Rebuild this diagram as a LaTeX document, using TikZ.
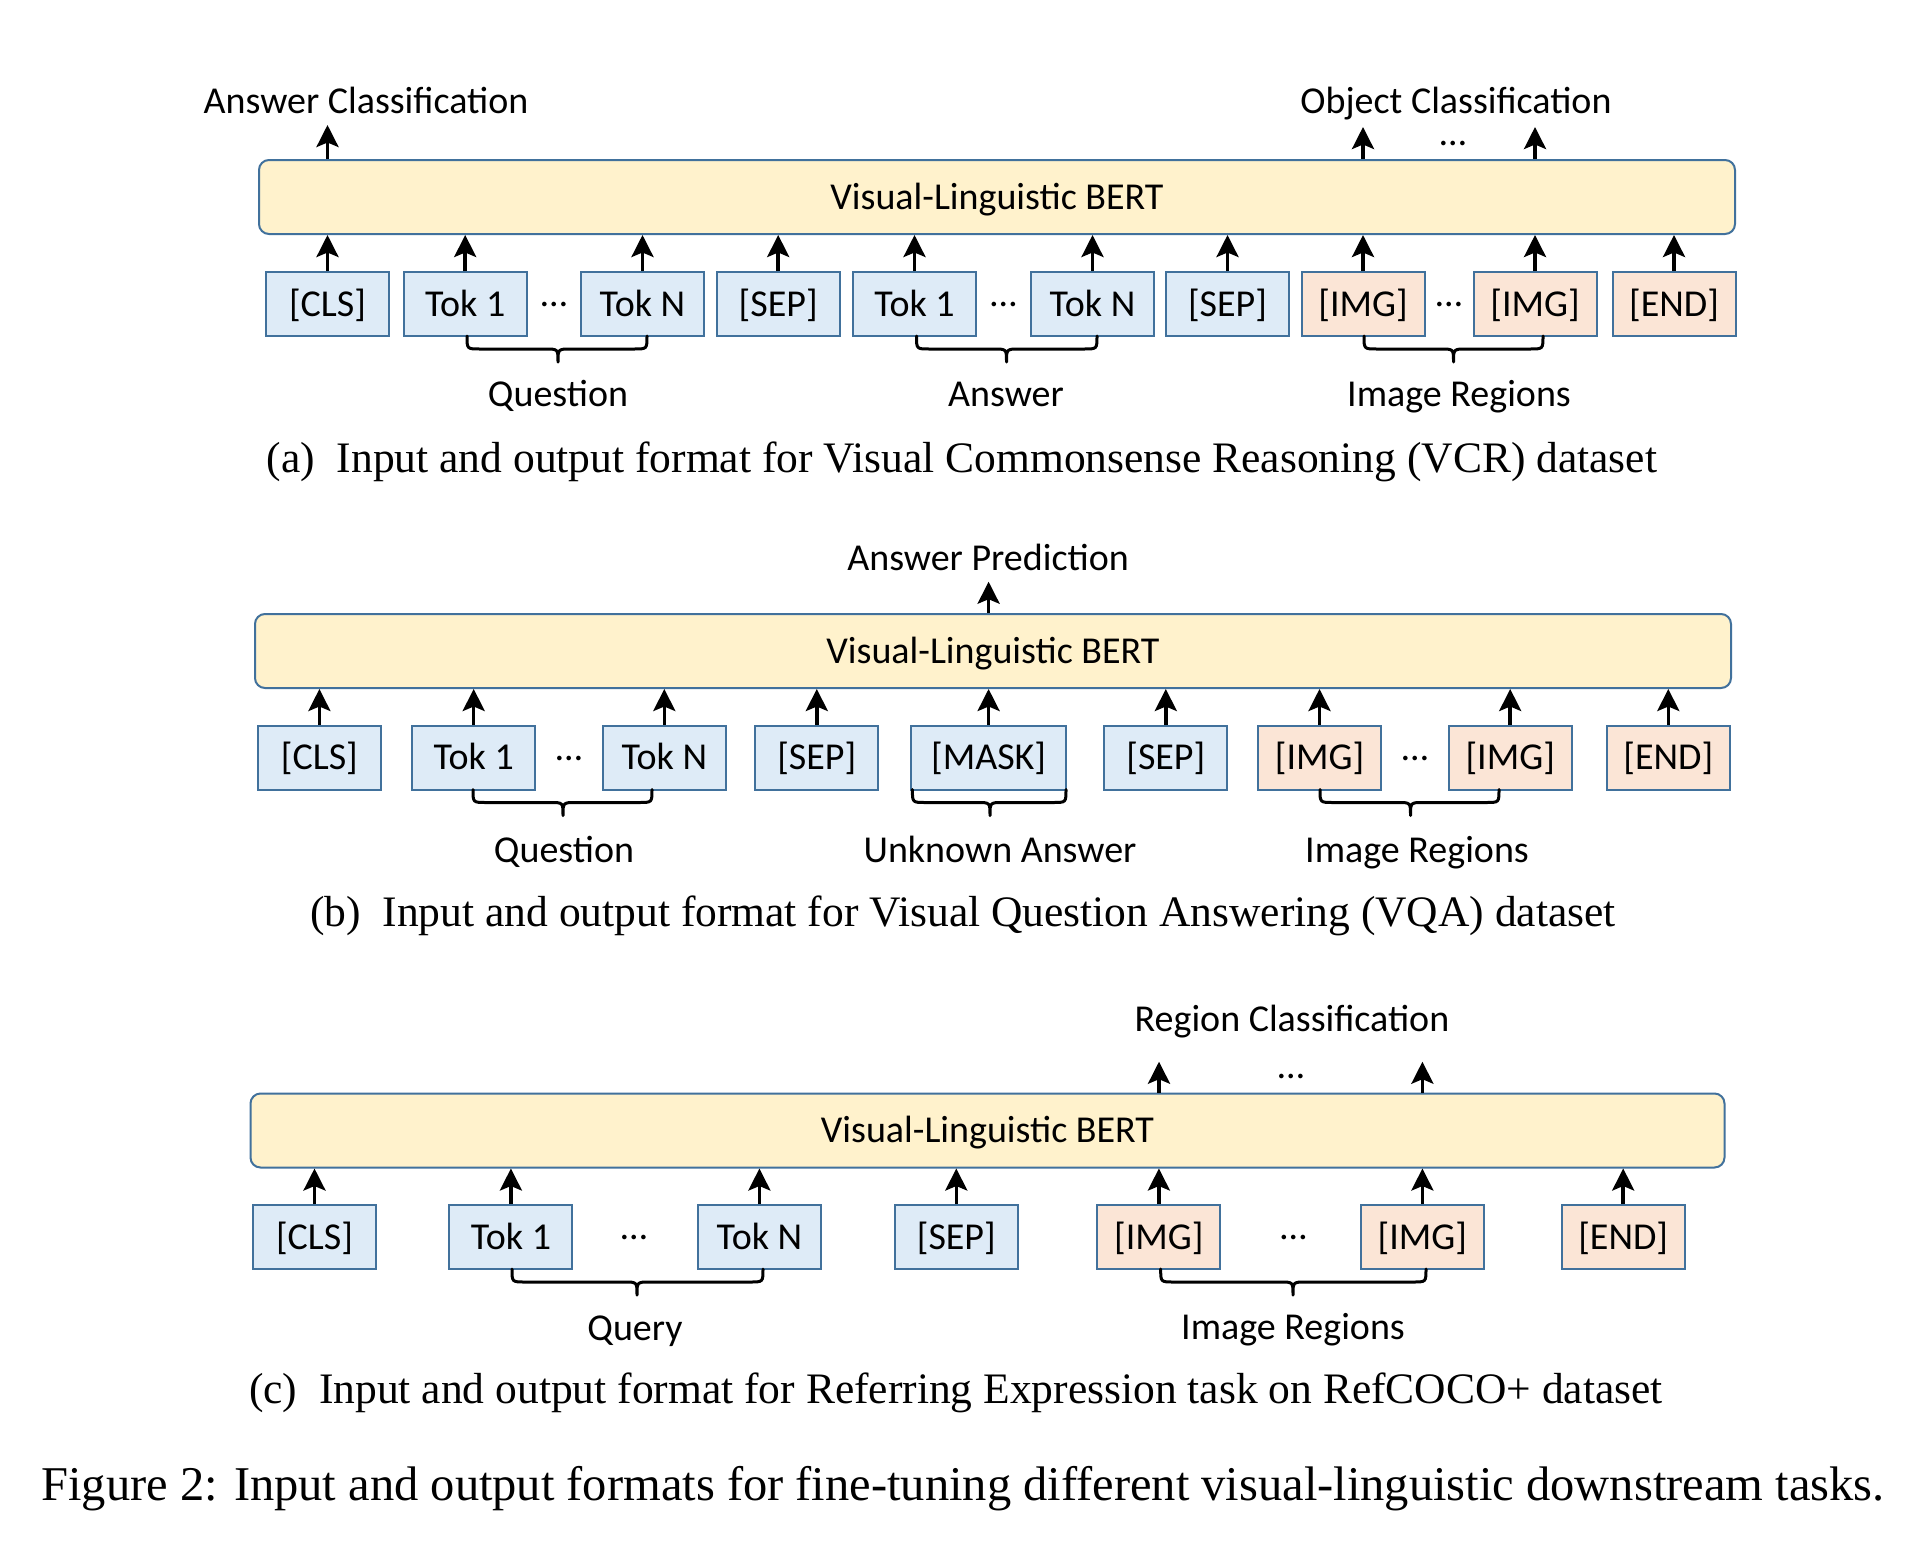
\documentclass[tikz,border=0pt]{standalone}
\usepackage{fontspec}
\setmainfont{Liberation Serif}
\newfontfamily\carl{Carlito}
\usetikzlibrary{arrows.meta}
\definecolor{bd}{HTML}{41719C}
\definecolor{bertfill}{HTML}{FFF2CC}
\definecolor{bluefill}{HTML}{DEEBF7}
\definecolor{peach}{HTML}{FBE5D6}
\newcommand\cfont{\carl\fontsize{38pt}{44pt}\selectfont}
\newcommand\capfont{\fontsize{43.5pt}{50pt}\selectfont}
\newcommand\figfont{\fontsize{48.5pt}{56pt}\selectfont}
\newcommand\Brace[4]{\draw[brc] (#1,#4) .. controls (#1,#4+13) .. (#1+13,#4+13) -- (#3-13,#4+13) .. controls (#3,#4+13) .. (#3,#4+26) .. controls (#3,#4+13) .. (#3+13,#4+13) -- (#2-13,#4+13) .. controls (#2,#4+13) .. (#2,#4);}
\begin{document}
\begin{tikzpicture}[x=1pt,y=-1pt,
  bert/.style={draw=bd, fill=bertfill, line width=2pt, rounded corners=10pt, minimum width=1476pt, minimum height=74pt, inner sep=0pt, font=\cfont, text height=24pt, text depth=0pt},
  tokb/.style={draw=bd, fill=bluefill, line width=2pt, minimum width=123pt, minimum height=64pt, inner sep=0pt, font=\cfont, text height=24pt, text depth=0pt},
  toki/.style={tokb, fill=peach},
  lbl/.style={font=\cfont, inner sep=0pt, text height=24pt, text depth=0pt},
  dotsn/.style={font=\cfont, inner sep=0pt, anchor=base, text height=6pt, text depth=0pt},
  arr/.style={line width=3.5pt, -{Stealth[length=22pt,width=22pt,inset=4.5pt]}},
  brc/.style={line width=3pt, line cap=round, line join=round},
  subcap/.style={font=\capfont, inner sep=0pt, anchor=base},
  figcap/.style={font=\figfont, inner sep=0pt, anchor=base}]
\useasboundingbox (0,0) rectangle (1912,1550);
\fill[white] (0,0) rectangle (1912,1550);

% ---------------- Panel (a) ----------------
\node[bert] (bertA) at (997,197) {Visual-Linguistic BERT};
\node[tokb] (clsA) at (327.5,304) {[CLS]};
\node[tokb] (qA1) at (465.2,304) {Tok 1};
\node[tokb] (qAn) at (642.5,304) {Tok N};
\node[tokb] (sepA1) at (778.2,304) {[SEP]};
\node[tokb] (aA1) at (914.5,304) {Tok 1};
\node[tokb] (aAn) at (1092.5,304) {Tok N};
\node[tokb] (sepA2) at (1227.5,304) {[SEP]};
\node[toki] (imgA1) at (1363,304) {[IMG]};
\node[toki] (imgA2) at (1535,304) {[IMG]};
\node[toki] (endA) at (1674,304) {[END]};
\node[dotsn] (dA1) at (554,306) {…};
\node[dotsn] (dA2) at (1003.5,306) {…};
\node[dotsn] (dA3) at (1449,306) {…};
\foreach \n in {clsA,qA1,qAn,sepA1,aA1,aAn,sepA2,imgA1,imgA2,endA}
  \draw[arr] (\n.north) -- (\n.north |- bertA.south);
\node[lbl] (ansCls) at (366,101) {Answer Classification};
\node[lbl] (objCls) at (1456,101) {Object Classification};
\coordinate (oA1) at (327.5,125);
\coordinate (oA2) at (1363,127);
\coordinate (oA3) at (1535,127);
\draw[arr] (bertA.north -| oA1) -- (oA1);
\draw[arr] (bertA.north -| oA2) -- (oA2);
\draw[arr] (bertA.north -| oA3) -- (oA3);
\node[dotsn] (dA4) at (1453,145) {…};
\Brace{467}{647}{558}{336}
\Brace{916.5}{1097}{1006.5}{336}
\Brace{1364}{1543}{1453.5}{336}
\node[lbl] (qLblA) at (558,394) {Question};
\node[lbl] (aLblA) at (1006,394) {Answer};
\node[lbl] (iLblA) at (1459,394) {Image Regions};
\node[subcap] (capA) at (962,472) {(a)\enspace Input and output format for Visual Commonsense Reasoning (VCR) dataset};

% ---------------- Panel (b) ----------------
\node[bert] (bertB) at (993,651) {Visual-Linguistic BERT};
\node[tokb] (clsB) at (319.4,757.5) {[CLS]};
\node[tokb] (qB1) at (473.7,757.5) {Tok 1};
\node[tokb] (qBn) at (664.3,757.5) {Tok N};
\node[tokb] (sepB1) at (816.8,757.5) {[SEP]};
\node[tokb, minimum width=155pt] (maskB) at (988.6,757.5) {[MASK]};
\node[tokb] (sepB2) at (1165.8,757.5) {[SEP]};
\node[toki] (imgB1) at (1319.5,757.5) {[IMG]};
\node[toki] (imgB2) at (1510.2,757.5) {[IMG]};
\node[toki] (endB) at (1668.3,757.5) {[END]};
\node[dotsn] (dB1) at (569,760) {…};
\node[dotsn] (dB2) at (1415,760) {…};
\foreach \n in {clsB,qB1,qBn,sepB1,maskB,sepB2,imgB1,imgB2,endB}
  \draw[arr] (\n.north) -- (\n.north |- bertB.south);
\node[lbl] (ansPred) at (988,558) {Answer Prediction};
\coordinate (oB1) at (988.6,581.7);
\draw[arr] (bertB.north -| oB1) -- (oB1);
\Brace{473}{652}{563}{789.5}
\Brace{912.4}{1066}{990}{789.5}
\Brace{1320}{1499}{1410.5}{789.5}
\node[lbl] (qLblB) at (564,850) {Question};
\node[lbl] (uLblB) at (1000,850) {Unknown Answer};
\node[lbl] (iLblB) at (1417,850) {Image Regions};
\node[subcap] (capB) at (963,926.5) {(b)\enspace Input and output format for Visual Question Answering (VQA) dataset};

% ---------------- Panel (c) ----------------
\node[bert, minimum width=1474pt] (bertC) at (987.5,1130.5) {Visual-Linguistic BERT};
\node[tokb] (clsC) at (314.5,1237) {[CLS]};
\node[tokb] (qC1) at (510.9,1237) {Tok 1};
\node[tokb] (qCn) at (759.4,1237) {Tok N};
\node[tokb] (sepC) at (956.3,1237) {[SEP]};
\node[toki] (imgC1) at (1158.9,1237) {[IMG]};
\node[toki] (imgC2) at (1422.4,1237) {[IMG]};
\node[toki] (endC) at (1623.2,1237) {[END]};
\node[dotsn] (dC1) at (634,1239) {…};
\node[dotsn] (dC2) at (1293.4,1239) {…};
\foreach \n in {clsC,qC1,qCn,sepC,imgC1,imgC2,endC}
  \draw[arr] (\n.north) -- (\n.north |- bertC.south);
\node[lbl] (regCls) at (1292,1019) {Region Classification};
\coordinate (oC1) at (1159,1061.7);
\coordinate (oC2) at (1422.4,1061.7);
\draw[arr] (bertC.north -| oC1) -- (oC1);
\draw[arr] (bertC.north -| oC2) -- (oC2);
\node[dotsn] (dC3) at (1291,1078) {…};
\Brace{512}{763}{637}{1269}
\Brace{1160.7}{1426}{1293}{1269}
\node[lbl] (qLblC) at (635,1328) {Query};
\node[lbl] (iLblC) at (1293,1327) {Image Regions};
\node[subcap] (capC) at (956,1403.5) {(c)\enspace Input and output format for Referring Expression task on RefCOCO+ dataset};

% ---------------- Figure caption ----------------
\node[figcap] (figCap) at (963,1500) {Figure 2: Input and output formats for fine-tuning different visual-linguistic downstream tasks.};
\end{tikzpicture}
\end{document}
